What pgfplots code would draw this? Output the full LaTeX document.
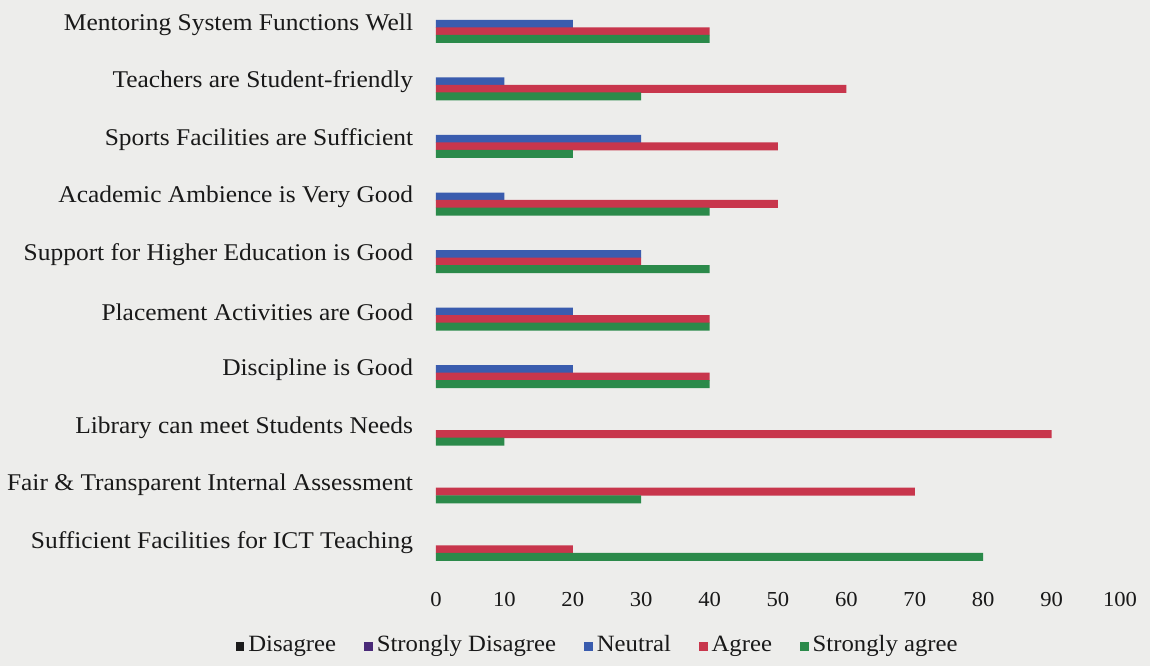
\documentclass[border=0pt]{standalone}
\usepackage{pgfplots}
\pgfplotsset{compat=1.18}
\usepackage{fontspec}
\setmainfont{Liberation Serif}[FakeStretch=1.06]
\definecolor{cNeu}{HTML}{3A5CAE}
\definecolor{cAgr}{HTML}{C8364C}
\definecolor{cSA}{HTML}{2B8A4A}
\definecolor{cDis}{HTML}{1C1C1C}
\definecolor{cSD}{HTML}{4A2A78}
\definecolor{bg}{HTML}{EDEDEB}
\begin{document}
\begin{tikzpicture}
\useasboundingbox (-327pt,-62.25pt) rectangle (535.5pt,437.25pt);
\fill[bg] (-327pt,-62.25pt) rectangle (535.5pt,437.25pt);
\begin{axis}[
  at={(0,0)}, anchor=south west,
  scale only axis, width=513pt, height=437.25pt,
  xmin=0, xmax=100, ymin=-0.75, ymax=9.38,
  xbar, bar width=6pt,
  axis line style={draw=none},
  major tick length=0pt,
  xtick={0,10,...,100}, ytick={0,...,9},
  yticklabels={Sufficient Facilities for ICT Teaching,
    Fair \& Transparent Internal Assessment,
    Library can meet Students Needs,
    Discipline is Good,
    Placement Activities are Good,
    Support for Higher Education is Good,
    Academic Ambience is Very Good,
    Sports Facilities are Sufficient,
    Teachers are Student-friendly,
    Mentoring System Functions Well},
  /pgf/number format/assume math mode=true,
  yticklabel style={font=\fontsize{18}{21}\selectfont, text=black!90, anchor=east, inner sep=0pt, xshift=-17pt, yshift=-2pt},
  xticklabel style={font=\fontsize{16}{18}\selectfont, text=black!90, anchor=north, inner sep=0pt, yshift=-6.5pt},
  legend columns=5,
  legend style={draw=none, fill=none, at={(0.2368,-0.1063)}, anchor=center,
    font=\fontsize{17.5}{20}\selectfont, text=black!90,
    cells={anchor=west, text height=12pt, text depth=4pt},
    /tikz/every even column/.append style={column sep=19pt},
    /tikz/every odd column/.append style={column sep=1pt}},
  legend image code/.code={\fill[#1, draw=none, fill opacity=1] (0pt,-4.5pt) rectangle (6.5pt,2pt);},
]
\addplot[fill=cDis, draw=none, fill opacity=0, bar shift=9.75pt] coordinates {
 (0,0) (0,1) (0,2) (0,3) (0,4) (0,5) (0,6) (0,7) (0,8) (0,9)};
\addplot[fill=cSD, draw=none, fill opacity=0, bar shift=4.1pt] coordinates {
 (0,0) (0,1) (0,2) (0,3) (0,4) (0,5) (0,6) (0,7) (0,8) (0,9)};
\addplot[fill=cNeu, draw=none, bar shift=-1.5pt, x filter/.expression={x==0 ? nan : x}] coordinates {
 (0,0) (0,1) (0,2) (20,3) (20,4) (30,5) (10,6) (30,7) (10,8) (20,9)};
\addplot[fill=cAgr, draw=none, bar shift=-7.1pt] coordinates {
 (20,0) (70,1) (90,2) (40,3) (40,4) (30,5) (50,6) (50,7) (60,8) (40,9)};
\addplot[fill=cSA, draw=none, bar shift=-12.75pt] coordinates {
 (80,0) (30,1) (10,2) (40,3) (40,4) (40,5) (40,6) (20,7) (30,8) (40,9)};
\legend{Disagree, Strongly Disagree, Neutral, Agree, Strongly agree}
\end{axis}
\end{tikzpicture}
\end{document}
